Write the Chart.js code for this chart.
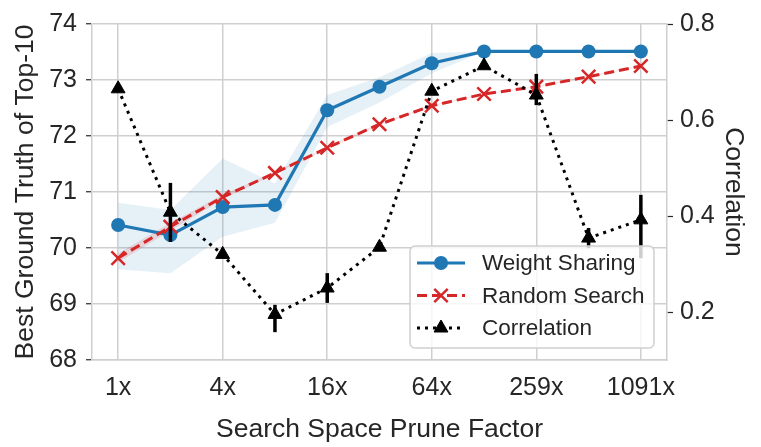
<!DOCTYPE html>
<html>
<head>
<meta charset="utf-8">
<script src="https://cdn.jsdelivr.net/npm/chart.js@4/dist/chart.umd.min.js"></script>
<style>
  body { margin: 0; background: #fff; }
  #wrap { width: 761px; height: 447px; }
</style>
</head>
<body>
<div id="wrap"><canvas id="chart" width="761" height="447"></canvas></div>
<script>
// x categories (only every other one is labelled)
var categories = ["1x", "2x", "4x", "8x", "16x", "32x", "64x", "130x", "259x", "532x", "1091x"];

// Weight Sharing mean and shaded band
var wsMean = [70.41, 70.23, 70.73, 70.77, 72.46, 72.88, 73.30, 73.51, 73.51, 73.51, 73.51];
var wsLow  = [69.62, 69.55, 70.20, 70.45, 72.16, 72.60, 73.12, 73.51, 73.51, 73.51, 73.51];
var wsHigh = [70.81, 70.68, 71.60, 71.15, 72.73, 73.05, 73.48, 73.51, 73.51, 73.51, 73.51];

// Random Search mean and thin band
var rsMean = [69.82, 70.38, 70.91, 71.34, 71.79, 72.21, 72.54, 72.75, 72.88, 73.06, 73.25];
var rsLow  = [69.74, 70.31, 70.87, 71.32, 71.77, 72.19, 72.53, 72.74, 72.87, 73.05, 73.24];
var rsHigh = [69.90, 70.45, 70.95, 71.36, 71.81, 72.23, 72.55, 72.76, 72.89, 73.07, 73.26];

// Correlation (right axis) with error bars
var corr     = [0.665, 0.408, 0.320, 0.195, 0.250, 0.335, 0.660, 0.713, 0.652, 0.354, 0.392];
var corrLow  = [0.665, 0.346, 0.320, 0.158, 0.219, 0.335, 0.660, 0.713, 0.631, 0.333, 0.312];
var corrHigh = [0.665, 0.469, 0.320, 0.215, 0.281, 0.335, 0.660, 0.713, 0.696, 0.375, 0.444];

var xTicks = [0, 2, 4, 6, 8, 10];
var leftTicks = [68, 69, 70, 71, 72, 73, 74];
var rightTicks = [0.2, 0.4, 0.6, 0.8];
var legendOrder = ["Weight Sharing", "Random Search", "Correlation"];

var BLUE = "#1f77b4", RED = "#d62728", TXT = "#262626", GRID = "#cfcfcf";
var FONT = "'Liberation Sans', Arial, sans-serif";

function pts(arr) {
  return arr.map(function (v, i) { return { x: i, y: v }; });
}

var errorBars = {
  id: "errorBars",
  afterDatasetsDraw: function (chart) {
    var ctx = chart.ctx, xs = chart.scales.x, ys = chart.scales.y2;
    ctx.save();
    ctx.strokeStyle = "#000";
    ctx.lineWidth = 3.5;
    for (var i = 0; i < corr.length; i++) {
      if (corrHigh[i] - corrLow[i] < 0.001) continue;
      var px = xs.getPixelForValue(i);
      ctx.beginPath();
      ctx.moveTo(px, ys.getPixelForValue(corrLow[i]));
      ctx.lineTo(px, ys.getPixelForValue(corrHigh[i]));
      ctx.stroke();
    }
    ctx.restore();
  }
};

var boxLegend = {
  id: "boxLegend",
  afterDraw: function (chart) {
    var ctx = chart.ctx;
    var bx = 410, by = 246, bw = 244, bh = 102, r = 5;
    ctx.save();
    ctx.beginPath();
    ctx.moveTo(bx + r, by);
    ctx.arcTo(bx + bw, by, bx + bw, by + bh, r);
    ctx.arcTo(bx + bw, by + bh, bx, by + bh, r);
    ctx.arcTo(bx, by + bh, bx, by, r);
    ctx.arcTo(bx, by, bx + bw, by, r);
    ctx.closePath();
    ctx.fillStyle = "rgba(255,255,255,0.8)";
    ctx.fill();
    ctx.strokeStyle = "#d0d0d0";
    ctx.lineWidth = 1.5;
    ctx.stroke();

    legendOrder.forEach(function (name, k) {
      var d = chart.data.datasets.filter(function (ds) { return ds.label === name; })[0];
      var y = 263 + k * 32.5;
      ctx.save();
      ctx.strokeStyle = d.borderColor;
      ctx.lineWidth = d.borderWidth;
      ctx.setLineDash(d.borderDash || []);
      ctx.beginPath();
      ctx.moveTo(417, y);
      ctx.lineTo(465, y);
      ctx.stroke();
      ctx.restore();
      ctx.save();
      ctx.fillStyle = d.pointBackgroundColor;
      ctx.strokeStyle = d.pointBorderColor;
      ctx.lineWidth = d.pointBorderWidth;
      Chart.helpers.drawPoint(ctx, {
        pointStyle: d.pointStyle, radius: d.pointRadius, rotation: 0, borderWidth: d.pointBorderWidth
      }, 441, y);
      ctx.restore();
      ctx.fillStyle = TXT;
      ctx.font = "22.5px " + FONT;
      ctx.textAlign = "left";
      ctx.textBaseline = "middle";
      ctx.fillText(d.label, 482, y + 1);
    });
    ctx.restore();
  }
};

var chart = new Chart(document.getElementById("chart"), {
  type: "line",
  data: {
    datasets: [
      {
        label: "Correlation", yAxisID: "y2", order: 0,
        data: pts(corr),
        borderColor: "#000", borderWidth: 3, borderDash: [3, 5],
        pointStyle: "triangle", pointRadius: 8,
        pointBackgroundColor: "#000", pointBorderColor: "#000", pointBorderWidth: 1,
        tension: 0, fill: false
      },
      {
        label: "Random Search", yAxisID: "y", order: 1,
        data: pts(rsMean),
        borderColor: RED, borderWidth: 3, borderDash: [10, 5],
        pointStyle: "crossRot", pointRadius: 9.5,
        pointBackgroundColor: RED, pointBorderColor: RED, pointBorderWidth: 2.5,
        tension: 0, fill: false
      },
      {
        label: "Weight Sharing", yAxisID: "y", order: 2,
        data: pts(wsMean),
        borderColor: BLUE, borderWidth: 3.2,
        pointStyle: "circle", pointRadius: 7,
        pointBackgroundColor: BLUE, pointBorderColor: BLUE, pointBorderWidth: 0,
        tension: 0, fill: false
      },
      {
        label: "rsHigh", yAxisID: "y", order: 3, data: pts(rsHigh),
        borderWidth: 0, pointRadius: 0, borderColor: "rgba(0,0,0,0)",
        backgroundColor: "rgba(214,39,40,0.15)", fill: "+1"
      },
      {
        label: "rsLow", yAxisID: "y", order: 3, data: pts(rsLow),
        borderWidth: 0, pointRadius: 0, borderColor: "rgba(0,0,0,0)", fill: false
      },
      {
        label: "wsHigh", yAxisID: "y", order: 4, data: pts(wsHigh),
        borderWidth: 0, pointRadius: 0, borderColor: "rgba(0,0,0,0)",
        backgroundColor: "rgba(31,119,180,0.11)", fill: "+1"
      },
      {
        label: "wsLow", yAxisID: "y", order: 4, data: pts(wsLow),
        borderWidth: 0, pointRadius: 0, borderColor: "rgba(0,0,0,0)", fill: false
      }
    ]
  },
  options: {
    responsive: false,
    animation: false,
    devicePixelRatio: 1,
    layout: { padding: { top: 24, left: 0, right: 0, bottom: 0 } },
    plugins: {
      legend: { display: false },
      tooltip: { enabled: false }
    },
    scales: {
      x: {
        type: "linear", min: -0.5, max: 10.5,
        afterBuildTicks: function (s) { s.ticks = xTicks.map(function (v) { return { value: v }; }); },
        afterFit: function (s) { s.height = 87; },
        grid: { color: GRID, lineWidth: 1.5, drawTicks: false },
        border: { color: GRID, width: 1.5 },
        ticks: {
          color: TXT, font: { family: FONT, size: 25 }, padding: 13, maxRotation: 0,
          callback: function (v) { return categories[v]; }
        },
        title: {
          display: true, text: "Search Space Prune Factor", color: TXT,
          font: { family: FONT, size: 26.5 }, padding: { top: 0, bottom: 1 }
        }
      },
      y: {
        position: "left", min: 68, max: 74,
        afterBuildTicks: function (s) { s.ticks = leftTicks.map(function (v) { return { value: v }; }); },
        afterFit: function (s) { s.width = 92; },
        grid: { color: GRID, lineWidth: 1.5, tickLength: 6, tickColor: TXT, tickWidth: 1.2 },
        border: { color: GRID, width: 1.5 },
        ticks: { color: TXT, font: { family: FONT, size: 25 }, padding: 9 },
        title: {
          display: true, text: "Best Ground Truth of Top-10", color: TXT,
          font: { family: FONT, size: 26.5 }, padding: { top: 10, bottom: 0 }
        }
      },
      y2: {
        position: "right", min: 0.1, max: 0.8,
        afterBuildTicks: function (s) { s.ticks = rightTicks.map(function (v) { return { value: v }; }); },
        afterFit: function (s) { s.width = 94; },
        grid: { drawOnChartArea: false, tickLength: 6, tickColor: TXT, tickWidth: 1.2 },
        border: { color: GRID, width: 1.5 },
        ticks: {
          color: TXT, font: { family: FONT, size: 25 }, padding: 7,
          callback: function (v) { return v.toFixed(1); }
        },
        title: {
          display: true, text: "Correlation", color: TXT,
          font: { family: FONT, size: 26.5 }, padding: { top: 12, bottom: 0 }
        }
      }
    }
  },
  plugins: [errorBars, boxLegend]
});
</script>
</body>
</html>
